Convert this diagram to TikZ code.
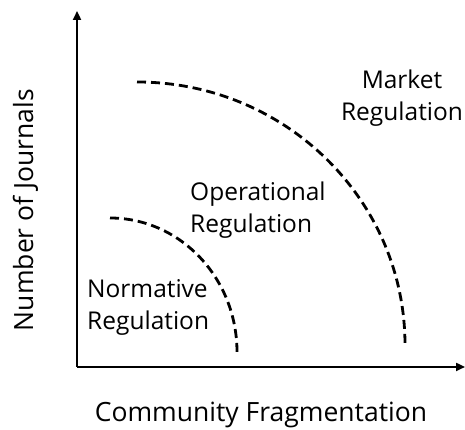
\documentclass[tikz,border=0pt]{standalone}
\usepackage{fontspec}
\setmainfont{Open Sans}
\usetikzlibrary{arrows.meta}

\begin{document}
\begin{tikzpicture}[x=1pt,y=1pt,
    axis/.style={line width=2.8pt,-{Triangle[length=9pt,width=8pt]}},
    border/.style={line width=2.8pt,dash pattern=on 9pt off 5pt},
    lbl/.style={inner sep=0pt,font=\fontsize{24.5}{32}\selectfont},
    title/.style={inner sep=0pt,font=\fontsize{26.5}{32}\selectfont}
]
            \useasboundingbox (0,0) rectangle (465,430);
            \coordinate (o) at (77,63);
            \coordinate (ytop) at (77,419);
            \coordinate (xend) at (465,63);
            \draw[axis] (o) -- (ytop);
            \draw[axis] (o) -- (xend);
            \draw[border] (110,212) arc[start angle=90,end angle=0,x radius=127,y radius=134];
            \draw[border] (137,348) arc[start angle=90,end angle=0,x radius=268,y radius=263];
            \node[lbl,align=center,anchor=base] (market) at (402,309) {Market\\Regulation};
            \node[lbl,align=left,anchor=base west] (operational) at (190,197) {Operational\\Regulation};
            \node[lbl,align=left,anchor=base west] (normative) at (87,100) {Normative\\Regulation};
            \node[title,anchor=base] (xlabel) at (261,8) {Community Fragmentation};
            \node[title,anchor=base,rotate=90] (ylabel) at (33,220) {Number of Journals};
\end{tikzpicture}
\end{document}
